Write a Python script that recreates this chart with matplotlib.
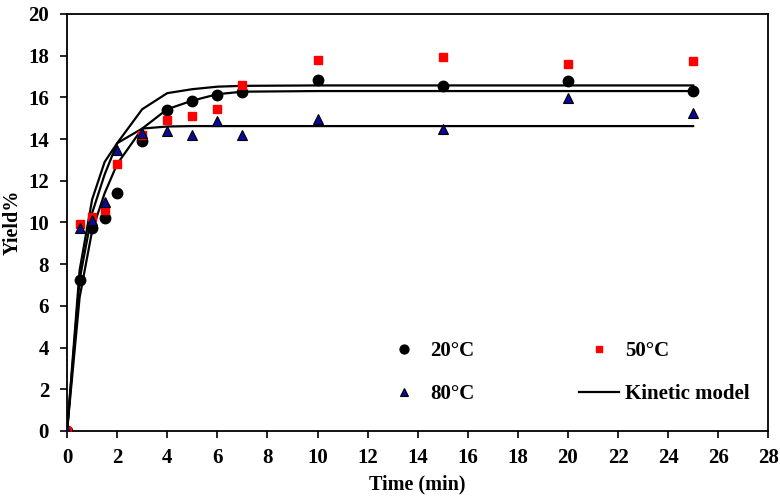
import matplotlib
matplotlib.use("Agg")
from matplotlib import pyplot as plt


# Measured yields (%) against time (min)
time = [0, 0.5, 1, 1.5, 2, 3, 4, 5, 6, 7, 10, 15, 20, 25]
yield_20 = [0, 7.25, 9.75, 10.2, 11.4, 13.9, 15.4, 15.8, 16.1, 16.25, 16.85, 16.55, 16.8, 16.3]
yield_50 = [0, 9.9, 10.25, 10.6, 12.8, 14.2, 14.9, 15.1, 15.45, 16.6, 17.8, 17.95, 17.6, 17.75]
yield_80 = [0, 9.75, 10.1, 11.0, 13.45, 14.3, 14.4, 14.2, 14.85, 14.2, 14.95, 14.5, 15.95, 15.25]

# Kinetic model curves at the same times
model_20 = [0, 6.4, 9.6, 11.4, 12.8, 14.5, 15.43, 15.84, 16.15, 16.27, 16.3, 16.3, 16.3, 16.3]
model_50 = [0, 7.25, 10.45, 12.3, 13.8, 15.43, 16.2, 16.39, 16.51, 16.55, 16.57, 16.57, 16.57, 16.57]
model_80 = [0, 7.7, 11.1, 12.9, 13.8, 14.5, 14.6, 14.62, 14.62, 14.62, 14.62, 14.62, 14.62, 14.62]

plt.rcParams["font.family"] = ["Liberation Serif", "DejaVu Serif"]
plt.rcParams["font.weight"] = "bold"

fig = plt.figure(figsize=(7.8, 4.97), dpi=100)
ax = fig.add_axes([0.086, 0.133, 0.899, 0.839])

# Model lines
line_style = dict(color="black", lw=1.6, zorder=2)
model_handle, = ax.plot(time, model_20, label="Kinetic model", **line_style)
ax.plot(time, model_50, **line_style)
ax.plot(time, model_80, **line_style)

# Data points
h20, = ax.plot(time, yield_20, "o", color="black", ms=7.5, ls="none",
               label="20°C", zorder=3)
h50, = ax.plot(time, yield_50, "s", color="#ff0000", ms=5.8, ls="none",
               label="50°C", zorder=3)
h80, = ax.plot(time, yield_80, "^", mfc="#0a0a96", mec="black", mew=0.8,
               ms=7.5, ls="none", label="80°C", zorder=4)

ax.set_xlim(0, 28)
ax.set_ylim(0, 20)
ax.set_xticks(range(0, 29, 2))
ax.set_yticks(range(0, 21, 2))
ax.tick_params(direction="out", length=5, width=1.2, labelsize=15)
ax.tick_params(axis="x", pad=7)
ax.tick_params(axis="y", pad=8)
for label in ax.get_xticklabels() + ax.get_yticklabels():
    label.set_fontweight("bold")
for spine in ax.spines.values():
    spine.set_linewidth(1.3)

ax.set_xlabel("Time (min)", fontsize=14.5, fontweight="bold", labelpad=5)
ax.set_ylabel("Yield%", fontsize=14.5, fontweight="bold", labelpad=4)

ax.legend(handles=[h20, h80, h50, model_handle], ncol=2, frameon=False,
          loc="upper left", bbox_to_anchor=(0.451, 0.215),
          prop=dict(size=15, weight="bold"), handlelength=1.95,
          handletextpad=0.3, columnspacing=5.0, labelspacing=1.1,
          markerscale=0.85, borderpad=0, borderaxespad=0)

fig.savefig("out.png", dpi=100)
